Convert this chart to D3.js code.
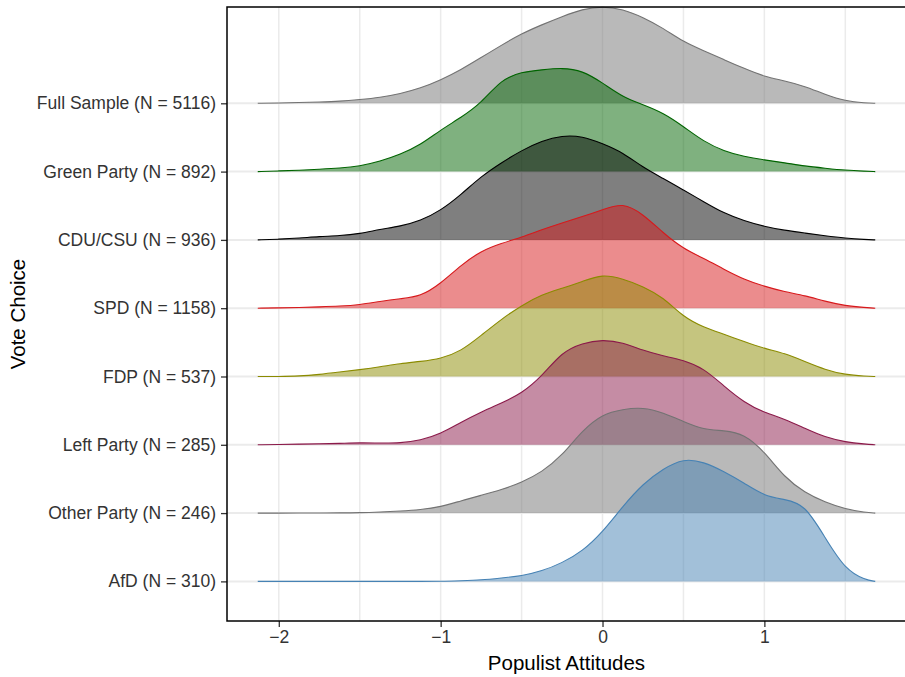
<!DOCTYPE html>
<html>
<head>
<meta charset="utf-8">
<script src="https://cdn.jsdelivr.net/npm/d3@7"></script>
<style>
  body { margin: 0; background: #fff; }
  svg { display: block; font-family: "Liberation Sans", Arial, Helvetica, sans-serif; }
</style>
</head>
<body>
<script>
// groups, top row first
var groups = [
  "Full Sample (N = 5116)",
  "Green Party (N = 892)",
  "CDU/CSU (N = 936)",
  "SPD (N = 1158)",
  "FDP (N = 537)",
  "Left Party (N = 285)",
  "Other Party (N = 246)",
  "AfD (N = 310)"
];
var lineColors = ["#737373", "#006400", "#000000", "#d7191c", "#8b8b00", "#8b1a4a", "#737373", "#4682b4"];

// populist attitude grid the ridges were read at
var xGrid = [-2.13, -2, -1.875, -1.75, -1.625, -1.5, -1.375, -1.25, -1.125, -1, -0.875, -0.75,
  -0.625, -0.5, -0.375, -0.25, -0.125, 0, 0.125, 0.25, 0.375, 0.5, 0.625, 0.75, 0.875, 1,
  1.125, 1.25, 1.375, 1.5, 1.625, 1.685];

// ridge heights (in row units) per group
var fullSample = [0, 0.005, 0.01, 0.02, 0.03, 0.055, 0.085, 0.14, 0.22, 0.34, 0.49, 0.67, 0.85, 1.02, 1.15, 1.27, 1.38, 1.42, 1.38, 1.26, 1.10, 0.90, 0.77, 0.64, 0.51, 0.39, 0.33, 0.25, 0.13, 0.034, 0.005, 0];
var greenParty = [0, 0.01, 0.02, 0.035, 0.05, 0.08, 0.15, 0.25, 0.39, 0.61, 0.79, 1.0, 1.35, 1.46, 1.49, 1.52, 1.48, 1.30, 1.09, 0.98, 0.86, 0.66, 0.44, 0.30, 0.22, 0.17, 0.13, 0.08, 0.05, 0.02, 0.005, 0];
var cduCsu = [0, 0.01, 0.025, 0.05, 0.06, 0.09, 0.155, 0.20, 0.28, 0.43, 0.66, 0.93, 1.13, 1.31, 1.45, 1.53, 1.52, 1.41, 1.28, 1.06, 0.90, 0.73, 0.56, 0.39, 0.28, 0.195, 0.14, 0.10, 0.06, 0.025, 0.005, 0];
var spd = [0, 0.005, 0.01, 0.02, 0.03, 0.05, 0.10, 0.14, 0.17, 0.36, 0.63, 0.84, 0.95, 1.04, 1.15, 1.25, 1.34, 1.44, 1.55, 1.38, 1.10, 0.87, 0.73, 0.57, 0.42, 0.32, 0.24, 0.185, 0.10, 0.035, 0.01, 0];
var fdp = [0, 0, 0.005, 0.03, 0.065, 0.10, 0.14, 0.19, 0.22, 0.26, 0.37, 0.60, 0.84, 1.04, 1.20, 1.29, 1.39, 1.50, 1.43, 1.32, 1.16, 0.87, 0.72, 0.62, 0.51, 0.41, 0.34, 0.22, 0.10, 0.025, 0.005, 0];
var leftParty = [0, 0.005, 0.01, 0.015, 0.02, 0.03, 0.025, 0.025, 0.065, 0.16, 0.33, 0.48, 0.61, 0.75, 1.0, 1.36, 1.49, 1.54, 1.50, 1.38, 1.30, 1.24, 1.12, 0.86, 0.62, 0.47, 0.38, 0.24, 0.11, 0.04, 0.01, 0];
var otherParty = [0, 0, 0, 0.002, 0.003, 0.005, 0.015, 0.03, 0.05, 0.09, 0.18, 0.26, 0.34, 0.45, 0.60, 0.84, 1.21, 1.45, 1.52, 1.55, 1.47, 1.34, 1.22, 1.21, 1.16, 0.90, 0.52, 0.30, 0.16, 0.06, 0.01, 0];
var afd = [0, 0, 0, 0, 0, 0, 0, 0, 0, 0, 0.01, 0.02, 0.05, 0.08, 0.15, 0.27, 0.44, 0.72, 1.10, 1.43, 1.65, 1.80, 1.75, 1.61, 1.44, 1.25, 1.20, 1.13, 0.64, 0.17, 0.02, 0];

var densities = [fullSample, greenParty, cduCsu, spd, fdp, leftParty, otherParty, afd];

var xTicks = [-2, -1, 0, 1];
var xGridLines = [-2, -1.5, -1, -0.5, 0, 0.5, 1, 1.5];

var width = 905;
var height = 677;
var panel = { left: 227, right: 906, top: 7, bottom: 621 };

var svg = d3.select("body").append("svg")
  .attr("width", width)
  .attr("height", height);

var x = d3.scaleLinear().domain([-2.32, 1.875]).range([panel.left, panel.right]);
// row k = 1 is the bottom group (AfD)
var y = d3.scaleLinear().domain([0.42, 9.41]).range([panel.bottom, panel.top]);

function rowOf(i) {
  return groups.length - i;
}

// grid
var grid = svg.append("g").attr("class", "grid");
grid.selectAll("line.v")
  .data(xGridLines)
  .enter()
  .append("line")
  .attr("class", "v")
  .attr("x1", function (d) { return x(d); })
  .attr("x2", function (d) { return x(d); })
  .attr("y1", panel.top)
  .attr("y2", panel.bottom)
  .attr("stroke", "#ebebeb")
  .attr("stroke-width", 1.5);
grid.selectAll("line.h")
  .data(groups)
  .enter()
  .append("line")
  .attr("class", "h")
  .attr("x1", panel.left)
  .attr("x2", panel.right)
  .attr("y1", function (d, i) { return y(rowOf(i)); })
  .attr("y2", function (d, i) { return y(rowOf(i)); })
  .attr("stroke", "#ebebeb")
  .attr("stroke-width", 2);

// ridges, drawn top row first so lower rows sit on top
var ridges = svg.append("g").attr("class", "ridges");

groups.forEach(function (name, i) {
  var k = rowOf(i);
  var pts = xGrid.map(function (v, j) { return { x: v, h: densities[i][j] }; });

  var area = d3.area()
    .curve(d3.curveBasis)
    .x(function (d) { return x(d.x); })
    .y0(y(k))
    .y1(function (d) { return y(k + d.h); });

  var line = d3.line()
    .curve(d3.curveBasis)
    .x(function (d) { return x(d.x); })
    .y(function (d) { return y(k + d.h); });

  var g = ridges.append("g").attr("class", "ridge");
  g.append("path")
    .datum(pts)
    .attr("d", area)
    .attr("fill", lineColors[i])
    .attr("fill-opacity", 0.5);
  g.append("path")
    .datum(pts)
    .attr("d", line)
    .attr("fill", "none")
    .attr("stroke", lineColors[i])
    .attr("stroke-width", 1.1);
});

// axes
var xAxis = svg.append("g")
  .attr("transform", "translate(0," + panel.bottom + ")")
  .call(d3.axisBottom(x).tickValues(xTicks).tickSize(6).tickPadding(4).tickFormat(d3.format("d")));

var yAxis = svg.append("g")
  .attr("transform", "translate(" + panel.left + ",0)")
  .call(d3.axisLeft(y)
    .tickValues(groups.map(function (d, i) { return rowOf(i); }))
    .tickSize(6)
    .tickPadding(5)
    .tickFormat(function (d) { return groups[groups.length - d]; }));

[xAxis, yAxis].forEach(function (a) {
  a.select(".domain").remove();
  a.selectAll(".tick line").attr("stroke", "#333333").attr("stroke-width", 1.3);
  a.selectAll(".tick text")
    .attr("fill", "#333333")
    .style("font-size", "17.5px")
    .style("font-family", "'Liberation Sans', Arial, Helvetica, sans-serif");
});

// panel border
svg.append("rect")
  .attr("x", panel.left)
  .attr("y", panel.top)
  .attr("width", panel.right - panel.left)
  .attr("height", panel.bottom - panel.top)
  .attr("fill", "none")
  .attr("stroke", "#000")
  .attr("stroke-width", 1.5);

// titles
svg.append("text")
  .attr("x", (panel.left + panel.right) / 2)
  .attr("y", 670)
  .attr("text-anchor", "middle")
  .style("font-size", "20.5px")
  .text("Populist Attitudes");

svg.append("text")
  .attr("transform", "translate(25," + (panel.top + panel.bottom) / 2 + ") rotate(-90)")
  .attr("text-anchor", "middle")
  .style("font-size", "20.5px")
  .text("Vote Choice");
</script>
</body>
</html>
